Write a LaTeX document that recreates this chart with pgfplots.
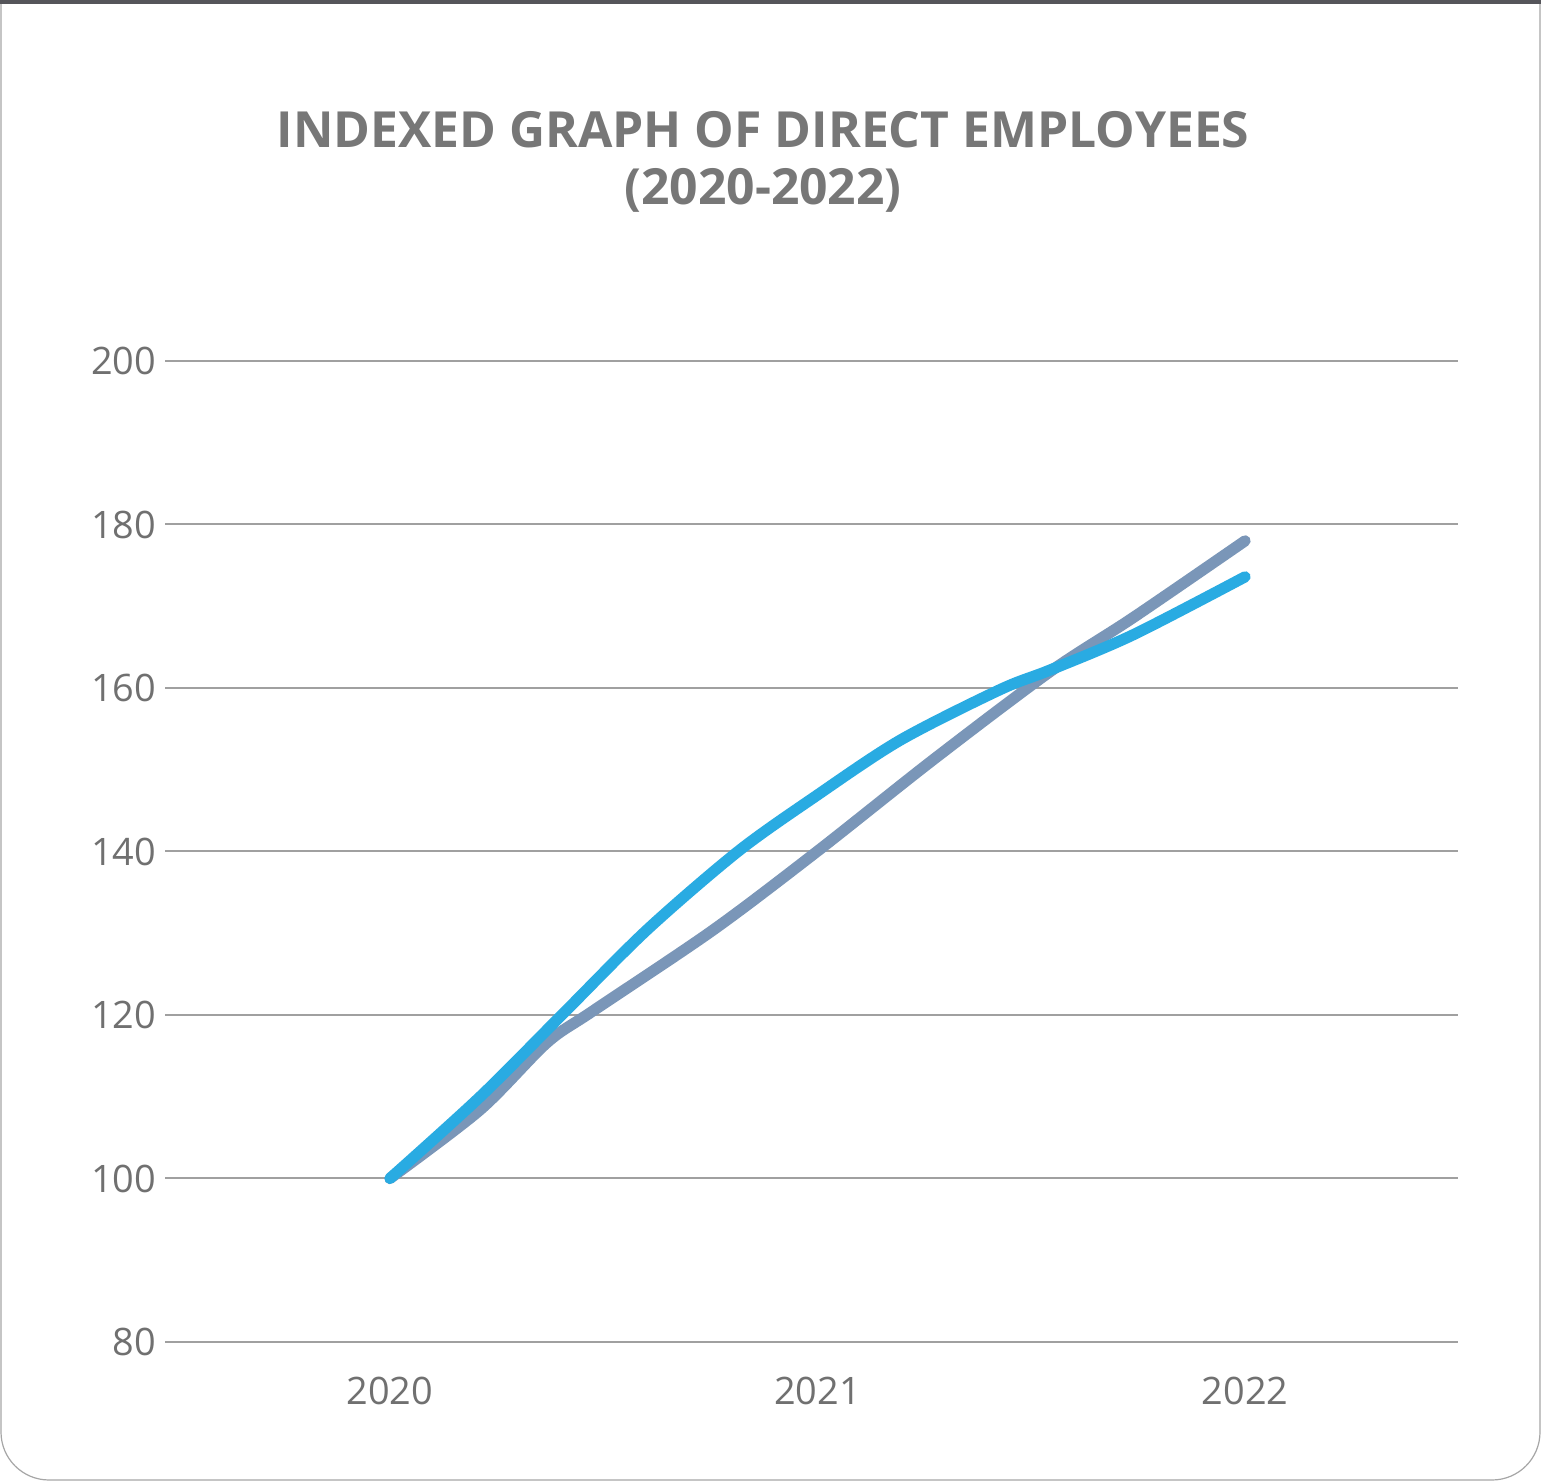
\documentclass[border=0pt]{standalone}
\usepackage{fontspec}
\setmainfont{Open Sans}
\usepackage{pgfplots}
\pgfplotsset{compat=1.18}
\definecolor{lblue}{RGB}{41,171,226}
\definecolor{sgray}{RGB}{122,150,184}
\definecolor{txtgray}{RGB}{112,112,112}
\definecolor{gridgray}{RGB}{160,160,160}
\definecolor{bargray}{RGB}{85,85,90}
\begin{document}
\begin{tikzpicture}
% bounding box = full reference image (1 px = 0.5bp)
\useasboundingbox (-82.5bp,-69.5bp) rectangle (688bp,671bp);
\fill[white] (-82.5bp,-69.5bp) rectangle (688bp,671bp);
% card border with rounded bottom corners
\draw[gray!70, line width=0.6bp, rounded corners=24bp]
  (-82bp,671bp) -- (-82bp,-69bp) -- (687.5bp,-69bp) -- (687.5bp,671bp);
\fill[bargray] (-82.5bp,669bp) rectangle (688bp,671bp);
% title
\node[font=\bfseries\fontsize{25}{29}\selectfont, text=txtgray!95, align=center]
  at (299bp,590bp) {INDEXED GRAPH OF DIRECT EMPLOYEES\\(2020-2022)};
\begin{axis}[
  at={(0,0)}, anchor=south west,
  scale only axis, width=646.5bp, height=490.5bp,
  xmin=2019.474, xmax=2022.498,
  ymin=80, ymax=200,
  xtick={2020,2021,2022},
  xticklabels={2020,2021,2022},
  ytick={80,100,...,200},
  axis line style={draw=none},
  tick style={draw=none},
  ymajorgrids, grid style={gridgray, line width=1bp},
  /pgf/number format/assume math mode=true,
  ticklabel style={font=\fontsize{19}{22}\selectfont, text=txtgray},
  xticklabel style={yshift=-14bp},
  yticklabel style={xshift=-1bp},
  clip=false,
]
\addplot[sgray, line width=5.6bp, line cap=round, line join=round, smooth, tension=0.5] coordinates {
  (2020.000,100) (2020.211,108.4) (2020.367,116.6) (2020.475,120.5)
  (2020.756,130.4) (2020.999,140) (2021.270,151.2) (2021.544,162)
  (2021.738,168.6) (2022.000,178)
};
\addplot[lblue, line width=5.6bp, line cap=round, line join=round, smooth, tension=0.5] coordinates {
  (2020.000,100) (2020.211,110) (2020.402,120) (2020.601,130.4)
  (2020.814,140) (2020.994,146.7) (2021.193,153.6) (2021.427,159.8)
  (2021.544,162.2) (2021.738,166.5) (2022.000,173.6)
};
\end{axis}
\end{tikzpicture}
\end{document}
